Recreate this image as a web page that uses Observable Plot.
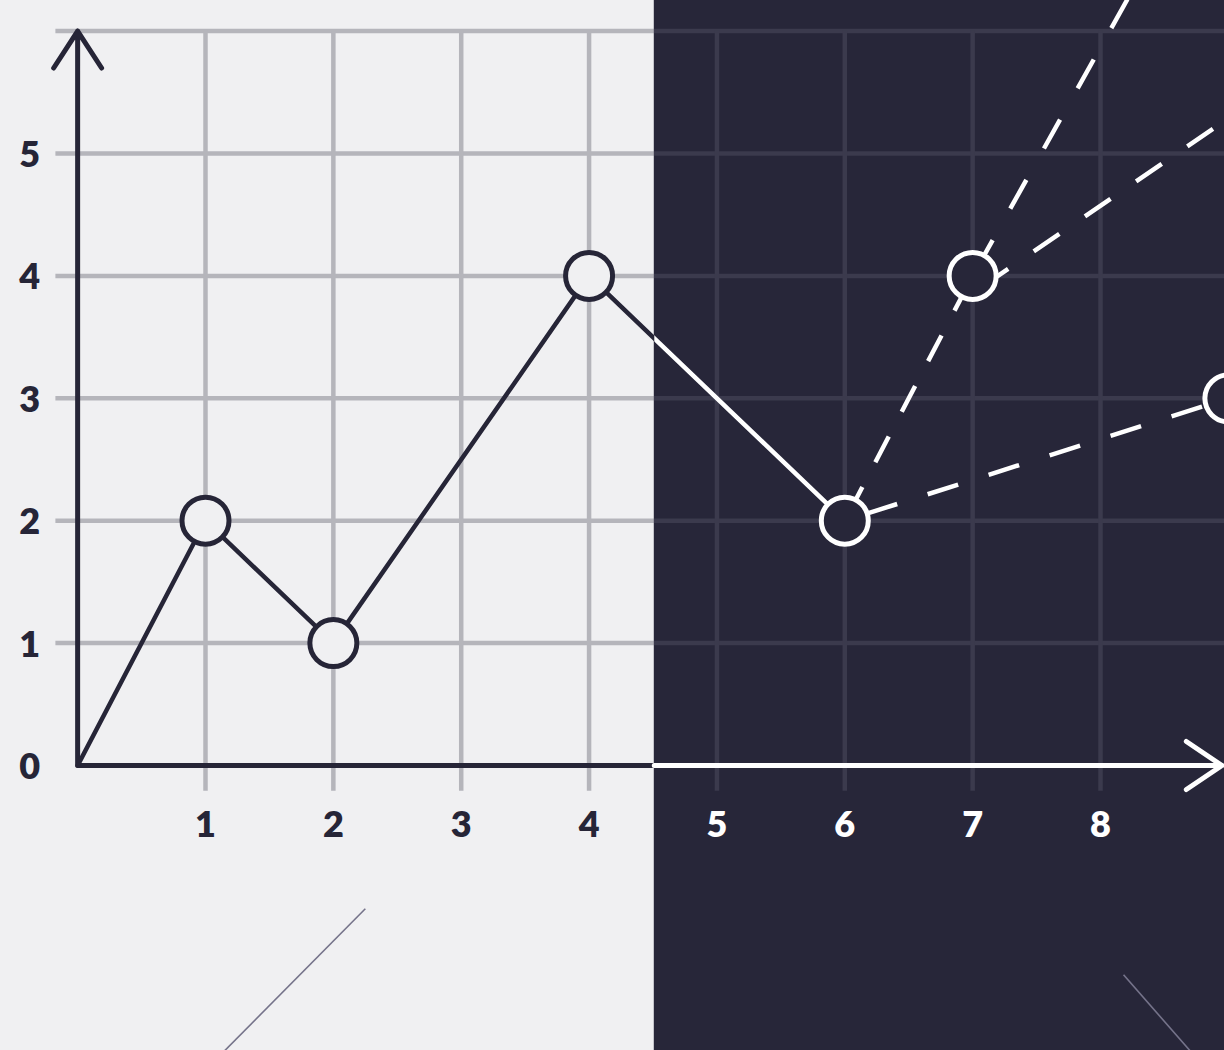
<!DOCTYPE html>
<html>
<head>
<meta charset="utf-8">
<script src="https://cdn.jsdelivr.net/npm/d3@7"></script>
<script src="https://cdn.jsdelivr.net/npm/@observablehq/plot@0.6"></script>
<style>
  html, body { margin: 0; padding: 0; background: #f0f0f2; overflow: hidden; }
  svg { display: block; }
</style>
</head>
<body>
<script>
// ---- data ----
const solidX = [0, 1, 2, 4, 6];
const solidY = [0, 2, 1, 4, 2];
const dotX = [1, 2, 4, 6, 7, 9];
const dotY = [2, 1, 4, 2, 4, 3];
const dashA1X = [6, 7];   const dashA1Y = [2, 4];
const dashA2X = [7, 8.5]; const dashA2Y = [4, 6.8];
const dashBX = [7, 9.2];  const dashBY = [3.86, 5.43];
const dashCX = [6, 9];    const dashCY = [2, 3];
const xTicks = [1, 2, 3, 4, 5, 6, 7, 8];
const yTicks = [0, 1, 2, 3, 4, 5];
const gridX = [1, 2, 3, 4, 5, 6, 7, 8];
const gridY = [1, 2, 3, 4, 5, 6];
const decorX1 = [1.15, 8.18]; const decorY1 = [-2.33, -1.71];
const decorX2 = [2.25, 8.70]; const decorY2 = [-1.17, -2.33];

// ---- scale / layout constants ----
const W = 1224, H = 1050;
const xDomain = [-0.6033, 8.9697];
const yDomain = [-2.3284, 6.25];
const splitX = 4.51;
const xAxisMax = 8.95, yAxisMax = 6;
const gridBottom = -0.21, gridLeft = -0.17, gridTop = 6;

const light = "#f0f0f2", dark = "#272639", ink = "#262537";
const gridLight = "#b5b5bb", gridDark = "#3b3a4d", decor = "#75738a";

const zip = (xs, ys) => xs.map((x, i) => ({x, y: ys[i]}));
const font = "Lato, 'Noto Sans', sans-serif";

const chart = Plot.plot({
  width: W, height: H, margin: 0,
  x: {domain: xDomain, axis: null},
  y: {domain: yDomain, axis: null},
  color: {type: "identity"},
  style: {background: light},
  marks: [
    Plot.rect([{a: splitX, b: xDomain[1] + 1}], {x1: "a", x2: "b", y1: () => yDomain[0] - 1, y2: () => yDomain[1] + 1, fill: dark}),
    // grid
    Plot.ruleY(gridY, {y: d => d, x1: () => gridLeft, x2: () => splitX, stroke: gridLight, strokeWidth: 4.5}),
    Plot.ruleY(gridY, {y: d => d, x1: () => splitX, x2: () => xDomain[1] + 1, stroke: gridDark, strokeWidth: 4.5}),
    Plot.ruleX(gridX, {x: d => d, y1: () => gridBottom, y2: () => gridTop, stroke: d => d < splitX ? gridLight : gridDark, strokeWidth: 4.5}),
    // decorative strokes
    Plot.link(decorX1.map((x, i) => i), {x1: i => decorX1[i], y1: i => decorY1[i], x2: i => decorX2[i], y2: i => decorY2[i], stroke: decor, strokeWidth: 1.6}),
    // axes
    Plot.ruleY([0], {y: d => d, x1: () => 0, x2: () => splitX, stroke: ink, strokeWidth: 5}),
    Plot.arrow([{x1: splitX, y1: 0, x2: xAxisMax, y2: 0}], {x1: "x1", y1: "y1", x2: "x2", y2: "y2", stroke: "white", strokeWidth: 5, headLength: 12.9, headAngle: 68, strokeLinecap: "round", strokeLinejoin: "round"}),
    Plot.arrow([{x1: 0, y1: 0, x2: 0, y2: yAxisMax}], {x1: "x1", y1: "y1", x2: "x2", y2: "y2", stroke: ink, strokeWidth: 5, headLength: 13.2, headAngle: 66, strokeLinecap: "round", strokeLinejoin: "round"}),
    // dashed branches
    Plot.line(zip(dashA1X, dashA1Y), {x: "x", y: "y", stroke: "white", strokeWidth: 4.5, strokeDasharray: "29,28", strokeDashoffset: 48, strokeLinecap: "butt"}),
    Plot.line(zip(dashA2X, dashA2Y), {x: "x", y: "y", stroke: "white", strokeWidth: 4.5, strokeDasharray: "33,36", strokeDashoffset: 61, strokeLinecap: "butt"}),
    Plot.line(zip(dashBX, dashBY), {x: "x", y: "y", stroke: "white", strokeWidth: 4.5, strokeDasharray: "31,31", strokeDashoffset: 50, strokeLinecap: "butt"}),
    Plot.line(zip(dashCX, dashCY), {x: "x", y: "y", stroke: "white", strokeWidth: 4.5, strokeDasharray: "32,32", strokeDashoffset: 41, strokeLinecap: "butt"}),
    // solid line, drawn twice and clipped by side afterwards
    Plot.line(zip(solidX, solidY), {x: "x", y: "y", stroke: ink, strokeWidth: 4.5}),
    Plot.line(zip(solidX, solidY), {x: "x", y: "y", stroke: "white", strokeWidth: 4.5}),
    // points
    Plot.dot(zip(dotX, dotY), {x: "x", y: "y", r: 23.5, strokeWidth: 5,
      fill: d => d.x < splitX ? light : dark, stroke: d => d.x < splitX ? ink : "white"}),
    // tick labels
    Plot.text(xTicks, {x: d => d, y: () => 0, dy: 60, text: d => String(d), fontSize: 36, fontWeight: 800, fontFamily: font,
      fill: d => d < splitX ? ink : "white", textAnchor: "middle"}),
    Plot.text(yTicks, {x: () => 0, y: d => d, dx: -48, dy: 2, text: d => String(d), fontSize: 36, fontWeight: 800, fontFamily: font,
      fill: ink, textAnchor: "middle"})
  ]
});

document.body.appendChild(chart);

// clip the two copies of the solid line to their halves
const xPix = d3.scaleLinear(xDomain, [0, W]);
const splitPx = xPix(splitX);
const svg = d3.select(chart);
const defs = svg.insert("defs", ":first-child");
defs.append("clipPath").attr("id", "clipLeft").append("rect")
  .attr("x", -10).attr("y", -10).attr("width", splitPx + 10).attr("height", H + 20);
defs.append("clipPath").attr("id", "clipRight").append("rect")
  .attr("x", splitPx).attr("y", -10).attr("width", W + 10 - splitPx).attr("height", H + 20);
const lineGroups = svg.selectAll('g[aria-label="line"]').nodes();
const n = lineGroups.length;
if (n >= 2) {
  d3.select(lineGroups[n - 2]).attr("clip-path", "url(#clipLeft)");
  d3.select(lineGroups[n - 1]).attr("clip-path", "url(#clipRight)");
}
</script>
</body>
</html>
